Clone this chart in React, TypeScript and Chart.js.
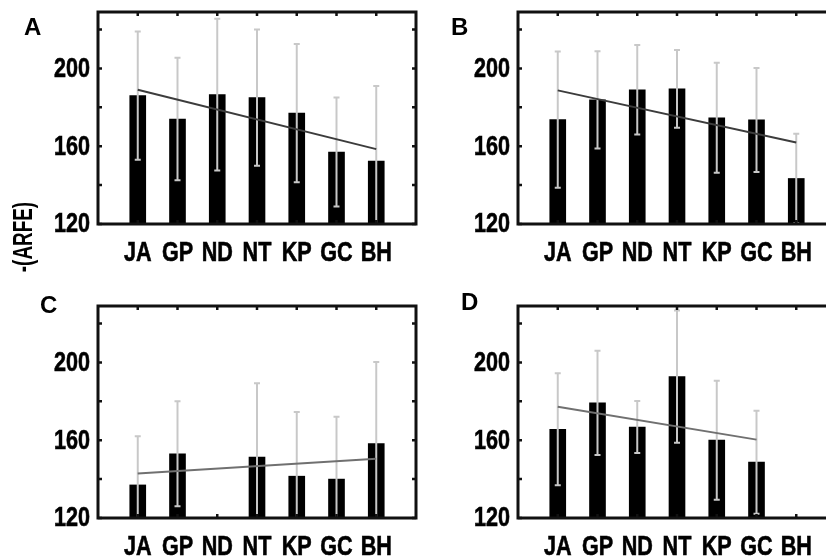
import React, { useEffect, useRef } from 'react';
import { Chart, registerables } from 'chart.js';

Chart.register(...registerables);

// ---------- data ----------
const categories = ['JA', 'GP', 'ND', 'NT', 'KP', 'GC', 'BH'];

const meanA = [186, 174, 186.5, 185, 177, 157, 152.3];
const sdA = [33, 31.5, 39, 35, 35.5, 28, 38.7];
const fitA = [189, 158.5];
const fitCatsA = ['JA', 'BH'];

const meanB = [173.7, 183.8, 189, 189.5, 174.6, 173.5, 143.4];
const sdB = [35, 25, 23, 20, 28.3, 26.7, 23];
const fitB = [188.7, 161.9];
const fitCatsB = ['JA', 'BH'];

const meanC = [137, 153, null, 151.3, 141.5, 140, 158.2];
const sdC = [25, 27, null, 38, 33, 32, 42];
const fitC = [142.9, 150.5];
const fitCatsC = ['JA', 'BH'];

const meanD = [165.6, 179.2, 166.8, 192.7, 160, 148.7, null];
const sdD = [28.8, 26.8, 13.4, 34, 30.6, 26.5, null];
const fitD = [177.2, 160.3];
const fitCatsD = ['JA', 'GC'];

const yLabelTicks = [120, 160, 200];
const yMarkTicks = [120, 140, 160, 180, 200, 220];
const yMin = 120;
const yMax = 229;

const sansBold = "bold 27px 'Liberation Sans', Arial, sans-serif";
const narrowScale = 0.8;

// ---------- plugin: error bars, frame, inner ticks, narrow tick labels ----------
const framePlugin = {
  id: 'errbars',
  afterDatasetDraw(chart: any, args: any, opts: any) {
    if (args.meta.type !== 'bar') return;
    const { ctx, chartArea } = chart;
    const xs = chart.scales.x;
    const ys = chart.scales.y;
    const means: (number | null)[] = opts.means;
    const sds: (number | null)[] = opts.sds;
    ctx.save();
    ctx.beginPath();
    ctx.rect(chartArea.left, chartArea.top, chartArea.right - chartArea.left, chartArea.bottom - chartArea.top);
    ctx.clip();
    ctx.strokeStyle = '#c8c8c8';
    ctx.lineWidth = 2;
    means.forEach((m, i) => {
      const s = sds[i];
      if (m == null || s == null) return;
      const x = xs.getPixelForValue(i + 1);
      const yt = ys.getPixelForValue(m + s);
      const yb = ys.getPixelForValue(m - s);
      ctx.beginPath();
      ctx.moveTo(x, yt);
      ctx.lineTo(x, yb);
      ctx.stroke();
      ctx.beginPath();
      ctx.moveTo(x - 3, yt);
      ctx.lineTo(x + 3, yt);
      ctx.moveTo(x - 3, yb);
      ctx.lineTo(x + 3, yb);
      ctx.stroke();
    });
    ctx.restore();
  },
  afterDraw(chart: any) {
    const { ctx, chartArea } = chart;
    const { left, right, top, bottom } = chartArea;
    const xs = chart.scales.x;
    const ys = chart.scales.y;
    ctx.save();
    ctx.strokeStyle = '#111';
    ctx.lineWidth = 3;
    ctx.strokeRect(left, top, right - left, bottom - top);
    ctx.lineWidth = 2.5;
    ctx.beginPath();
    yMarkTicks.forEach((v) => {
      const y = ys.getPixelForValue(v);
      ctx.moveTo(left, y);
      ctx.lineTo(left + 4, y);
      ctx.moveTo(right, y);
      ctx.lineTo(right - 4, y);
    });
    categories.forEach((_, i) => {
      const x = xs.getPixelForValue(i + 1);
      ctx.moveTo(x, top);
      ctx.lineTo(x, top + 4);
      ctx.moveTo(x, bottom);
      ctx.lineTo(x, bottom - 4);
    });
    ctx.stroke();

    // tick labels (narrow bold text)
    ctx.fillStyle = '#000';
    ctx.strokeStyle = '#000';
    ctx.lineWidth = 0.6;
    ctx.font = sansBold;
    ctx.textBaseline = 'middle';
    ctx.textAlign = 'right';
    yLabelTicks.forEach((v) => {
      const y = ys.getPixelForValue(v);
      ctx.save();
      ctx.translate(left - 8, y + 1);
      ctx.scale(narrowScale, 1);
      ctx.fillText(String(v), 0, 0);
      ctx.strokeText(String(v), 0, 0);
      ctx.restore();
    });
    ctx.textBaseline = 'alphabetic';
    ctx.textAlign = 'center';
    categories.forEach((c, i) => {
      const x = xs.getPixelForValue(i + 1);
      ctx.save();
      ctx.translate(x, bottom + 37);
      ctx.scale(narrowScale, 1);
      ctx.fillText(c, 0, 0);
      ctx.strokeText(c, 0, 0);
      ctx.restore();
    });
    ctx.restore();
  },
};

type PanelProps = {
  means: (number | null)[];
  sds: (number | null)[];
  fit: number[];
  fitCats: string[];
  lineColor: string;
  left: number;
  top: number;
  height: number;
  padTop: number;
  xH: number;
};

function Panel(p: PanelProps) {
  const ref = useRef<HTMLCanvasElement>(null);
  useEffect(() => {
    const chart = new Chart(ref.current!, {
      type: 'bar',
      data: {
        datasets: [
          {
            type: 'line',
            data: [
              { x: categories.indexOf(p.fitCats[0]) + 1, y: p.fit[0] },
              { x: categories.indexOf(p.fitCats[1]) + 1, y: p.fit[1] },
            ],
            borderColor: p.lineColor,
            borderWidth: 2,
            pointRadius: 0,
            order: 1,
          } as any,
          {
            type: 'bar',
            data: p.means.map((m, i) => ({ x: i + 1, y: m })),
            backgroundColor: '#000',
            barThickness: 16,
            base: yMin,
            order: 2,
          } as any,
        ],
      },
      options: {
        animation: false,
        responsive: true,
        maintainAspectRatio: false,
        layout: { padding: { left: 0, right: 4, top: p.padTop, bottom: 0 } },
        plugins: {
          legend: { display: false },
          tooltip: { enabled: false },
          errbars: { means: p.means, sds: p.sds },
        } as any,
        scales: {
          x: {
            type: 'linear',
            min: 0,
            max: 8,
            offset: false,
            grid: { display: false, drawTicks: false, offset: false },
            border: { display: false },
            afterBuildTicks: (s: any) => {
              s.ticks = categories.map((_, i) => ({ value: i + 1 }));
            },
            afterFit: (s: any) => {
              s.height = p.xH;
            },
            ticks: { display: false },
          },
          y: {
            type: 'linear',
            min: yMin,
            max: yMax,
            grid: { display: false, drawTicks: false },
            border: { display: false },
            afterBuildTicks: (s: any) => {
              s.ticks = yMarkTicks.map((v) => ({ value: v }));
            },
            afterFit: (s: any) => {
              s.width = 98;
            },
            ticks: { display: false },
          },
        },
      },
      plugins: [framePlugin],
    });
    return () => chart.destroy();
  }, []);
  return (
    <div style={{ position: 'absolute', left: p.left, top: p.top, width: 420, height: p.height }}>
      <canvas ref={ref} />
    </div>
  );
}

const letterStyle: React.CSSProperties = {
  position: 'absolute',
  fontFamily: "'Liberation Sans', Arial, sans-serif",
  fontWeight: 'bold',
  fontSize: 24,
  lineHeight: '24px',
  color: '#000',
};

export default function App() {
  return (
    <div
      style={{
        position: 'fixed',
        left: 0,
        top: 0,
        width: 826,
        height: 556,
        overflow: 'hidden',
        background: '#fff',
      }}
    >
      <Panel means={meanA} sds={sdA} fit={fitA} fitCats={fitCatsA} lineColor="#3c3c3c" left={0} top={0} height={276} padTop={12} xH={52} />
      <Panel means={meanB} sds={sdB} fit={fitB} fitCats={fitCatsB} lineColor="#3c3c3c" left={420} top={0} height={276} padTop={12} xH={52} />
      <Panel means={meanC} sds={sdC} fit={fitC} fitCats={fitCatsC} lineColor="#707070" left={0} top={276} height={280} padTop={30} xH={38} />
      <Panel means={meanD} sds={sdD} fit={fitD} fitCats={fitCatsD} lineColor="#707070" left={420} top={276} height={280} padTop={30} xH={38} />
      <div style={{ ...letterStyle, left: 24, top: 15 }}>A</div>
      <div style={{ ...letterStyle, left: 451, top: 15 }}>B</div>
      <div style={{ ...letterStyle, left: 40, top: 293 }}>C</div>
      <div style={{ ...letterStyle, left: 461, top: 290 }}>D</div>
      <div
        style={{
          position: 'absolute',
          left: 23,
          top: 237,
          transform: 'translate(-50%, -50%) rotate(-90deg) scaleX(0.7)',
          whiteSpace: 'nowrap',
          fontFamily: "'Liberation Sans', Arial, sans-serif",
          fontWeight: 'bold',
          fontSize: 27,
          lineHeight: '27px',
          color: '#000',
        }}
      >
        -(ARFE)
      </div>
    </div>
  );
}
